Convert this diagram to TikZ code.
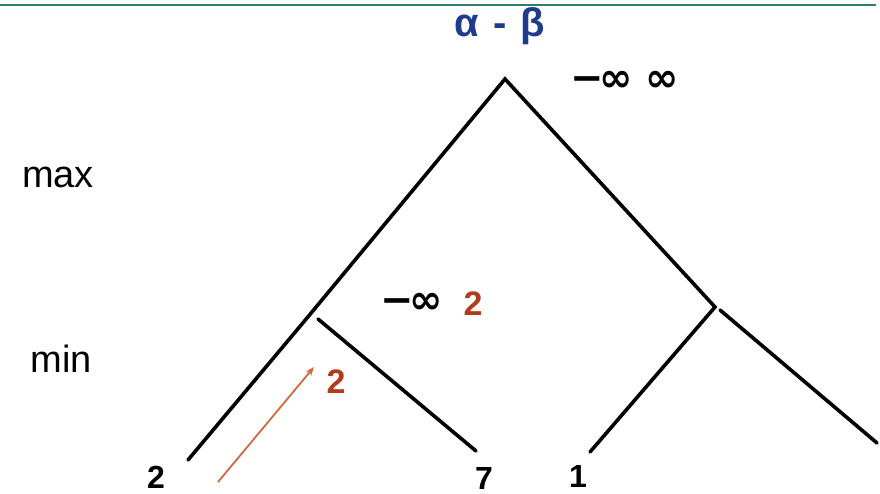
\documentclass[tikz,border=0pt]{standalone}
\usepackage{fontspec}
\setmainfont{Liberation Sans}
\newfontfamily\dvsans{DejaVu Sans}
\usetikzlibrary{arrows.meta}
\definecolor{ruleteal}{HTML}{2E7D6E}
\definecolor{titleblue}{HTML}{1F3C8C}
\definecolor{valred}{HTML}{B03C1C}
\definecolor{arrowor}{HTML}{D06A3C}
\tikzset{
  edge/.style={line width=3.6pt, line cap=round},
  levellabel/.style={font=\fontsize{38}{40}\selectfont, anchor=base, inner sep=0pt},
  leaflabel/.style={font=\bfseries\fontsize{32}{34}\selectfont, anchor=base, inner sep=0pt},
  boundlabel/.style={font=\dvsans\bfseries\fontsize{40}{42}\selectfont, anchor=base west, inner sep=0pt},
  vallabel/.style={font=\bfseries\fontsize{34}{36}\selectfont, anchor=base, inner sep=0pt, text=valred},
  titlelabel/.style={font=\bfseries\fontsize{40}{42}\selectfont, anchor=base, inner sep=0pt, text=titleblue},
}
\begin{document}
\begin{tikzpicture}[x=1pt,y=-1pt]
\useasboundingbox (0,0) rectangle (880,494);
% top rule
\coordinate (ruleL) at (0,5);
\coordinate (ruleR) at (876,5);
\draw[ruleteal, line width=2pt] (ruleL) -- (ruleR);
% tree points
\coordinate (root) at (505,79);
\coordinate (minA) at (307,318);
\coordinate (minAr) at (318,319);
\coordinate (leafTwo) at (188,460);
\coordinate (leafSeven) at (476,451);
\coordinate (minB) at (715,307);
\coordinate (minBr) at (720,310);
\coordinate (leafOne) at (590,452);
\coordinate (leafFour) at (877,443);
\draw[edge] (leafTwo) -- (minA) -- (root) -- (minB) -- (leafOne);
\draw[edge] (minAr) -- (leafSeven);
\draw[edge] (minBr) -- (leafFour);
% title
\node[titlelabel] (title) at (500,37) {α\hspace{14pt}-\hspace{14pt}β};
% level labels
\node[levellabel] (maxlab) at (58,188) {max};
\node[levellabel] (minlab) at (61,372) {min};
% bounds
\node[boundlabel] (bndRoot) at (570,92) {−\hspace{-4pt}∞\hspace{12pt}∞};
\node[boundlabel] (bndMin) at (380,313) {−\hspace{-4pt}∞};
\node[vallabel] (valMin) at (473,315) {2};
% leaves
\node[leaflabel] (lTwo) at (156,488) {2};
\node[leaflabel] (lSeven) at (484,489) {7};
\node[leaflabel] (lOne) at (578,487) {1};
% backed-up value arrow
\coordinate (arrS) at (218,482);
\coordinate (arrE) at (314,367);
\draw[arrowor, line width=1.8pt, -{Stealth[length=9pt,width=7pt]}] (arrS) -- (arrE);
\node[vallabel] (valArr) at (336,393) {2};
\end{tikzpicture}
\end{document}
